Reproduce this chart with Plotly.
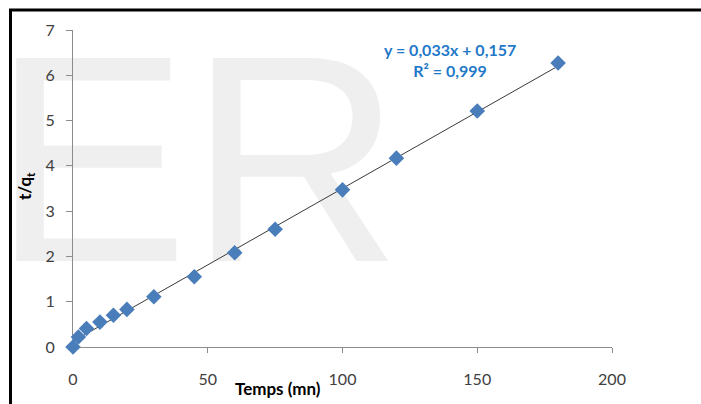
import numpy as np
import plotly.graph_objects as go

# ---- data ----
temps = [0, 2, 5, 10, 15, 20, 30, 45, 60, 75, 100, 120, 150, 180]
t_qt = [0.0, 0.22, 0.41, 0.55, 0.70, 0.83, 1.11, 1.55, 2.08, 2.60, 3.47, 4.17, 5.21, 6.27]
x_ticks = [0, 50, 100, 150, 200]
y_ticks = [0, 1, 2, 3, 4, 5, 6, 7]
equation = "y = 0,033x + 0,157"
r2_text = "R² = 0,999"
x_title = "Temps (mn)"
y_title = "t/q<sub>t</sub>"
watermark = "ER"

# ---- geometry ----
W, H = 701, 404
ML, MR, MT, MB = 73, 89, 30, 57
PW, PH = W - ML - MR, H - MT - MB


def px(x):
    return (x - ML) / PW


def py(y):
    return (H - MB - y) / PH


# trendline from least squares fit of the data
coef = np.polyfit(temps, t_qt, 1)
fit_x = np.array([min(temps), max(temps)])
fit_y = np.polyval(coef, fit_x)

fig = go.Figure()
fig.add_trace(go.Scatter(
    x=fit_x, y=fit_y, mode="lines",
    line=dict(color="#3a3a3a", width=1), hoverinfo="skip", showlegend=False,
))
fig.add_trace(go.Scatter(
    x=temps, y=t_qt, mode="markers", cliponaxis=False,
    marker=dict(symbol="diamond", size=12, color="#4a7ebb", line=dict(width=0)),
    showlegend=False,
))

FONT = "Lato, 'Open Sans', sans-serif"
tick_font = dict(family=FONT, size=16, color="#404040")

fig.update_xaxes(
    range=[0, 200], tickvals=x_ticks, ticktext=[str(v) for v in x_ticks],
    showgrid=False, zeroline=False, showline=True, linecolor="#8c8c8c", linewidth=1,
    ticks="outside", ticklen=5, tickcolor="#8c8c8c", tickfont=tick_font,
    ticklabelstandoff=13, layer="below traces",
)
fig.update_yaxes(
    range=[0, 7], tickvals=y_ticks, ticktext=[str(v) for v in y_ticks],
    showgrid=False, zeroline=False, showline=True, linecolor="#8c8c8c", linewidth=1,
    ticks="outside", ticklen=6, tickcolor="#8c8c8c", tickfont=tick_font,
    ticklabelstandoff=8, layer="below traces",
)

shapes = [
    # watermark
    dict(type="rect", xref="paper", yref="paper",
         x0=px(-4), x1=px(398), y0=py(271), y1=py(-9),
         line=dict(width=0), fillcolor="rgba(0,0,0,0)", layer="below",
         label=dict(text=watermark, textposition="middle center",
                    font=dict(family="Liberation Sans, Arial, sans-serif", size=295, color="#efefef"))),
    # frame lines
    dict(type="line", xref="paper", yref="paper", x0=px(9), x1=px(W + 5), y0=py(10), y1=py(10),
         line=dict(color="black", width=3)),
    dict(type="line", xref="paper", yref="paper", x0=px(10.5), x1=px(10.5), y0=py(9), y1=py(H + 5),
         line=dict(color="black", width=3)),
]

annotations = [
    dict(xref="paper", yref="paper", x=px(450), y=py(60), xanchor="center", yanchor="middle",
         text="<b>" + equation + "</b><br><b>" + r2_text + "</b>", showarrow=False, align="center",
         font=dict(family=FONT, size=16, color="#1f78c8")),
    dict(xref="paper", yref="paper", x=px(278), y=py(388), xanchor="center", yanchor="middle",
         text="<b>" + x_title + "</b>", showarrow=False,
         font=dict(family=FONT, size=17, color="#000000")),
    dict(xref="paper", yref="paper", x=px(26), y=py(186), xanchor="center", yanchor="middle",
         text="<b>" + y_title + "</b>", showarrow=False, textangle=-90,
         font=dict(family=FONT, size=17, color="#000000")),
]

fig.update_layout(
    width=W, height=H, margin=dict(l=ML, r=MR, t=MT, b=MB),
    paper_bgcolor="white", plot_bgcolor="white",
    shapes=shapes, annotations=annotations, showlegend=False,
)

fig.write_html("out.html", config={"displayModeBar": False},
               post_script="document.body.style.margin='0px';")
